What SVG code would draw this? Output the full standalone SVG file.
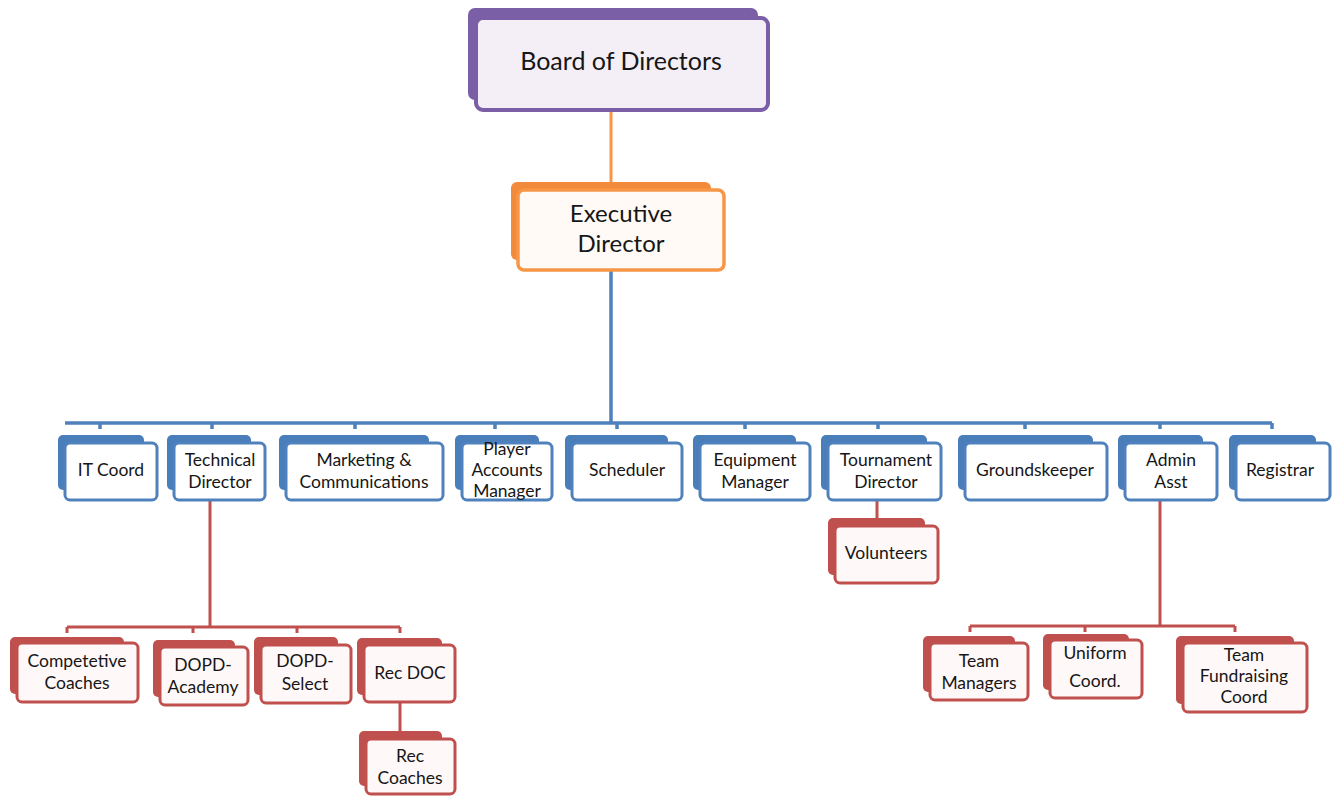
<svg xmlns="http://www.w3.org/2000/svg" width="1333" height="796" viewBox="0 0 1333 796">
<style>
  text { font-family: Lato, "Open Sans", "Liberation Sans", sans-serif; fill: #161616; text-anchor: middle; }
  .t16 { font-size: 17.5px; }
  .bk-p { fill: #7A5FA6; }
  .fr-p { fill: #F4EFF6; stroke: #7A5FA6; stroke-width: 4; }
  .bk-o { fill: #F28A3C; }
  .fr-o { fill: #FFFAF5; stroke: #F79646; stroke-width: 3.5; }
  .bk-b { fill: #4A7EBB; }
  .fr-b { fill: #FFFFFF; stroke: #4F81BD; stroke-width: 3; }
  .bk-r { fill: #C0504D; }
  .fr-r { fill: #FFF8F8; stroke: #C0504D; stroke-width: 3; }
  .ln-o { stroke: #F79646; stroke-width: 3; fill: none; }
  .ln-b { stroke: #4F81BD; stroke-width: 3.5; fill: none; }
  .ln-r { stroke: #C0504D; stroke-width: 3; fill: none; }
</style>
<rect width="1333" height="796" fill="#FFFFFF"/>

<g id="connectors">
  <line class="ln-o" x1="611" y1="110" x2="611" y2="186"/>
  <line class="ln-b" x1="611" y1="270" x2="611" y2="423"/>
  <line class="ln-b" x1="65" y1="423" x2="1272" y2="423"/>
  <path class="ln-b" d="M100 423V429 M212 423V429 M355 423V429 M495 423V429 M617 423V429 M745 423V429 M878 423V429 M1025 423V429 M1160 423V429 M1272 423V429"/>
  <line class="ln-r" x1="210" y1="500" x2="210" y2="627"/>
  <line class="ln-r" x1="67" y1="627" x2="400" y2="627"/>
  <path class="ln-r" d="M67 627V633 M193 627V633 M297 627V633 M400 627V633"/>
  <line class="ln-r" x1="400" y1="702" x2="400" y2="733"/>
  <line class="ln-r" x1="877" y1="500" x2="877" y2="520"/>
  <line class="ln-r" x1="1160" y1="500" x2="1160" y2="626"/>
  <line class="ln-r" x1="970" y1="626" x2="1235" y2="626"/>
  <path class="ln-r" d="M970 626V632 M1085 626V632 M1235 626V632"/>
</g>

<g id="board">
  <rect class="bk-p" x="468" y="8" width="290" height="92" rx="7"/>
  <rect class="fr-p" x="476" y="18" width="292" height="92" rx="7"/>
  <text x="621" y="70" style="font-size:25px">Board of Directors</text>
</g>

<g id="exec">
  <rect class="bk-o" x="511" y="182" width="200" height="78" rx="6"/>
  <rect class="fr-o" x="518" y="190" width="206" height="80" rx="6"/>
  <text x="621" y="222" style="font-size:24px">Executive</text>
  <text x="621" y="252" style="font-size:24px">Director</text>
</g>

<g id="it-coord">
  <rect class="bk-b" x="58" y="435" width="86" height="55" rx="5"/>
  <rect class="fr-b" x="65" y="443" width="92" height="57" rx="5"/>
  <text class="t16" x="111" y="476">IT Coord</text>
</g>
<g id="technical-director">
  <rect class="bk-b" x="167" y="435" width="84" height="55" rx="5"/>
  <rect class="fr-b" x="174" y="443" width="91" height="57" rx="5"/>
  <text class="t16" x="220" y="466">Technical</text>
  <text class="t16" x="220" y="488">Director</text>
</g>
<g id="marketing">
  <rect class="bk-b" x="279" y="435" width="150" height="55" rx="5"/>
  <rect class="fr-b" x="286" y="443" width="157" height="57" rx="5"/>
  <text class="t16" x="364" y="466">Marketing &amp;</text>
  <text class="t16" x="364" y="488">Communications</text>
</g>
<g id="player-accounts">
  <rect class="bk-b" x="455" y="435" width="84" height="55" rx="5"/>
  <rect class="fr-b" x="462" y="443" width="90" height="57" rx="5"/>
  <text class="t16" x="507" y="455">Player</text>
  <text class="t16" x="507" y="476">Accounts</text>
  <text class="t16" x="507" y="497">Manager</text>
</g>
<g id="scheduler">
  <rect class="bk-b" x="565" y="435" width="103" height="55" rx="5"/>
  <rect class="fr-b" x="572" y="443" width="110" height="57" rx="5"/>
  <text class="t16" x="627" y="476">Scheduler</text>
</g>
<g id="equipment">
  <rect class="bk-b" x="693" y="435" width="103" height="55" rx="5"/>
  <rect class="fr-b" x="700" y="443" width="110" height="57" rx="5"/>
  <text class="t16" x="755" y="466">Equipment</text>
  <text class="t16" x="755" y="488">Manager</text>
</g>
<g id="tournament">
  <rect class="bk-b" x="821" y="435" width="106" height="55" rx="5"/>
  <rect class="fr-b" x="828" y="443" width="113" height="57" rx="5"/>
  <text class="t16" x="886" y="466">Tournament</text>
  <text class="t16" x="886" y="488">Director</text>
</g>
<g id="groundskeeper">
  <rect class="bk-b" x="958" y="435" width="135" height="55" rx="5"/>
  <rect class="fr-b" x="965" y="443" width="142" height="57" rx="5"/>
  <text class="t16" x="1035" y="476">Groundskeeper</text>
</g>
<g id="admin-asst">
  <rect class="bk-b" x="1118" y="435" width="85" height="55" rx="5"/>
  <rect class="fr-b" x="1125" y="443" width="92" height="57" rx="5"/>
  <text class="t16" x="1171" y="466">Admin</text>
  <text class="t16" x="1171" y="488">Asst</text>
</g>
<g id="registrar">
  <rect class="bk-b" x="1229" y="435" width="87" height="55" rx="5"/>
  <rect class="fr-b" x="1236" y="443" width="94" height="57" rx="5"/>
  <text class="t16" x="1280" y="476">Registrar</text>
</g>

<g id="competetive-coaches">
  <rect class="bk-r" x="10" y="637" width="114" height="57" rx="5"/>
  <rect class="fr-r" x="17" y="643" width="121" height="59" rx="5"/>
  <text class="t16" x="77" y="667">Competetive</text>
  <text class="t16" x="77" y="689">Coaches</text>
</g>
<g id="dopd-academy">
  <rect class="bk-r" x="153" y="640" width="82" height="57" rx="5"/>
  <rect class="fr-r" x="160" y="647" width="88" height="58" rx="5"/>
  <text class="t16" x="203" y="671">DOPD-</text>
  <text class="t16" x="203" y="693">Academy</text>
</g>
<g id="dopd-select">
  <rect class="bk-r" x="254" y="637" width="84" height="58" rx="5"/>
  <rect class="fr-r" x="261" y="645" width="90" height="58" rx="5"/>
  <text class="t16" x="305" y="667">DOPD-</text>
  <text class="t16" x="305" y="690">Select</text>
</g>
<g id="rec-doc">
  <rect class="bk-r" x="357" y="638" width="85" height="57" rx="5"/>
  <rect class="fr-r" x="364" y="645" width="91" height="57" rx="5"/>
  <text class="t16" x="410" y="679">Rec DOC</text>
</g>
<g id="rec-coaches">
  <rect class="bk-r" x="359" y="731" width="83" height="55" rx="5"/>
  <rect class="fr-r" x="366" y="739" width="89" height="55" rx="5"/>
  <text class="t16" x="410" y="762">Rec</text>
  <text class="t16" x="410" y="784">Coaches</text>
</g>

<g id="volunteers">
  <rect class="bk-r" x="828" y="518" width="97" height="57" rx="5"/>
  <rect class="fr-r" x="835" y="526" width="103" height="57" rx="5"/>
  <text class="t16" x="886" y="559">Volunteers</text>
</g>

<g id="team-managers">
  <rect class="bk-r" x="923" y="636" width="92" height="56" rx="5"/>
  <rect class="fr-r" x="930" y="643" width="98" height="57" rx="5"/>
  <text class="t16" x="979" y="667">Team</text>
  <text class="t16" x="979" y="689">Managers</text>
</g>
<g id="uniform-coord">
  <rect class="bk-r" x="1043" y="634" width="86" height="56" rx="5"/>
  <rect class="fr-r" x="1050" y="640" width="92" height="58" rx="5"/>
  <text class="t16" x="1095" y="659">Uniform</text>
  <text class="t16" x="1095" y="687">Coord.</text>
</g>
<g id="team-fundraising">
  <rect class="bk-r" x="1176" y="636" width="118" height="68" rx="5"/>
  <rect class="fr-r" x="1183" y="643" width="124" height="69" rx="5"/>
  <text class="t16" x="1244" y="661">Team</text>
  <text class="t16" x="1244" y="682">Fundraising</text>
  <text class="t16" x="1244" y="703">Coord</text>
</g>
</svg>
